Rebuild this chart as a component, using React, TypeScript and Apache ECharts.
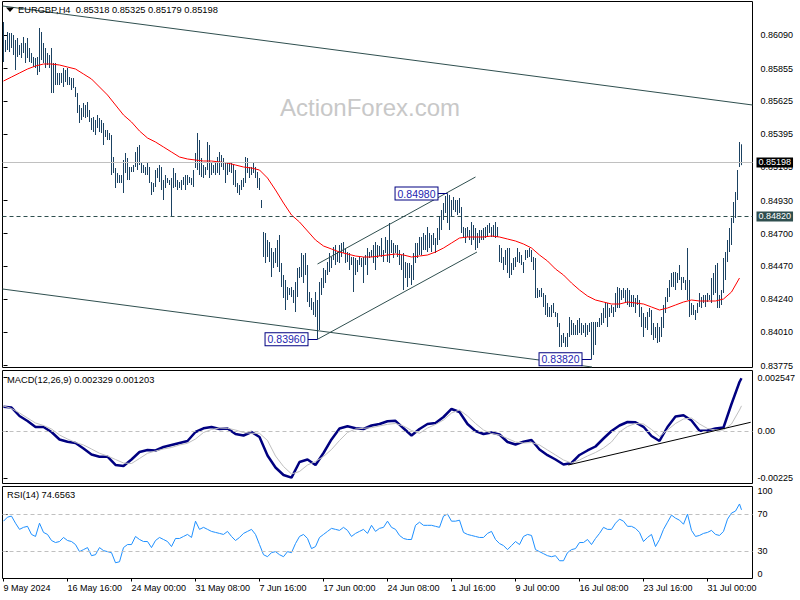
import React, { useEffect, useRef } from 'react';
import * as echarts from 'echarts';

const FONT = "'Liberation Sans', Arial, sans-serif";

// EURGBP H4 bars, prices in points (1 point = 0.00001)
const highs = [
  86181,86055,86111,86104,86104,86090,86055,86069,86020,86034,
  86076,86034,86069,85999,85964,85936,85929,85936,86139,86111,
  86034,85999,85964,85950,85999,85894,85894,85824,85824,85824,
  85859,85845,85859,85796,85789,85789,85726,85684,85600,85579,
  85614,85600,85621,85565,85509,85516,85495,85530,85509,85495,
  85474,85425,85425,85404,85390,85236,85159,85124,85110,85110,
  85215,85264,85229,85166,85166,85180,85271,85306,85320,85194,
  85180,85166,85194,85166,85061,85054,85145,85159,85180,85166,
  85075,85110,85089,85075,85089,85159,85124,85075,85061,85075,
  85096,85110,85110,85096,85089,85145,85264,85404,85355,85229,
  85180,85166,85341,85320,85201,85180,85194,85236,85271,85250,
  85229,85194,85194,85201,85194,85180,85145,85054,85040,85075,
  85089,85236,85229,85166,85166,85194,85166,85131,85089,84935,
  84711,84704,84655,84641,84599,84571,84599,84655,84690,84494,
  84410,84375,84326,84319,84326,84305,84361,84459,84466,84564,
  84550,84564,84480,84291,84249,84221,84291,84235,84361,84389,
  84459,84445,84501,84564,84536,84606,84620,84571,84620,84634,
  84641,84599,84571,84564,84536,84536,84529,84515,84536,84529,
  84536,84550,84599,84571,84585,84620,84641,84620,84613,84669,
  84585,84676,84655,84774,84655,84634,84620,84620,84585,84550,
  84564,84501,84494,84494,84480,84564,84634,84634,84676,84676,
  84704,84690,84746,84704,84690,84704,84669,84739,84816,84865,
  84914,84963,84980,84970,84935,84956,84935,84935,84949,84886,
  84746,84739,84746,84725,84781,84760,84739,84704,84725,84725,
  84739,84746,84760,84774,84746,84760,84781,84746,84620,84599,
  84536,84585,84599,84599,84494,84529,84536,84599,84571,84550,
  84501,84585,84585,84599,84585,84536,84529,84319,84305,84319,
  84284,84270,84214,84186,84200,84214,84151,84144,84074,83990,
  84004,83976,84004,84116,84095,84074,84060,84095,84109,84074,
  84060,84074,84060,84074,84081,84081,84081,84081,84109,84144,
  84179,84214,84214,84179,84200,84186,84284,84326,84319,84305,
  84319,84305,84319,84305,84270,84270,84249,84270,84235,84186,
  84144,84116,84151,84179,84165,84074,84046,84074,84046,84116,
  84200,84256,84319,84375,84424,84431,84431,84424,84480,84396,
  84396,84375,84599,84375,84214,84200,84165,84214,84284,84256,
  84270,84270,84284,84270,84389,84424,84480,84494,84270,84305,
  84529,84571,84655,84739,84809,84921,84991,85145,85341,85325,
];
const lows = [
  85901,85971,85985,85971,85999,85950,85845,85936,85950,85929,
  85964,85894,85929,85901,85894,85866,85859,85810,85831,85915,
  85894,85859,85880,85859,85684,85684,85740,85740,85740,85754,
  85726,85761,85740,85740,85705,85719,85656,85544,85474,85495,
  85516,85509,85516,85481,85425,85411,85390,85439,85411,85404,
  85320,85376,85355,85355,85110,85124,85019,85054,85054,85054,
  84984,85124,85075,85075,85131,85131,85166,85145,85180,85124,
  85124,85110,85110,85054,84970,84991,85026,85089,85061,85005,
  84935,85019,85054,85040,84816,85019,85026,85005,85019,85005,
  85040,85005,85040,85054,85040,85026,85159,85145,85110,85096,
  85089,85110,85145,85089,85110,85124,85110,85124,85110,85166,
  85145,85054,85110,85131,85124,85040,85026,84984,84970,85005,
  85026,85054,85124,85089,85110,85124,85089,85019,85005,84879,
  84536,84494,84536,84501,84396,84459,84494,84466,84431,84326,
  84249,84165,84235,84270,84256,84214,84151,84256,84389,84396,
  84354,84410,84221,84186,84165,84130,84116,83960,84025,84270,
  84319,84354,84410,84431,84459,84515,84480,84501,84494,84536,
  84564,84494,84501,84445,84480,84291,84410,84431,84480,84466,
  84354,84480,84410,84529,84536,84494,84445,84529,84543,84536,
  84501,84564,84501,84494,84564,84529,84564,84536,84480,84445,
  84305,84389,84326,84389,84340,84375,84494,84529,84550,84550,
  84585,84585,84571,84599,84571,84620,84564,84620,84655,84725,
  84795,84844,84774,84725,84816,84865,84851,84830,84844,84704,
  84676,84634,84676,84655,84620,84655,84585,84599,84634,84655,
  84655,84669,84676,84704,84676,84676,84669,84676,84501,84494,
  84445,84480,84424,84389,84410,84445,84466,84501,84494,84480,
  84424,84515,84529,84536,84501,84445,84249,84249,84256,84256,
  84186,84130,84116,84116,84116,84144,84116,84046,83906,83906,
  83934,83906,83906,83976,83990,83990,83990,83990,84004,83990,
  84004,83976,83990,84011,83820,83850,83920,84046,84046,84060,
  84074,84109,84046,84116,84144,84116,84151,84179,84179,84235,
  84249,84221,84200,84186,84186,84186,84144,84200,84116,84046,
  83976,84039,84025,84116,83990,83955,83969,83934,83941,83976,
  84039,84144,84221,84256,84326,84326,84305,84354,84375,84305,
  84354,84305,84235,84116,84130,84130,84095,84144,84186,84179,
  84214,84186,84221,84235,84214,84270,84284,84179,84179,84200,
  84284,84375,84501,84571,84620,84774,84809,84935,85166,85179,
];

// Moving average, sampled every 4 bars (points)
const maValues = [
  85768,85796,85824,85852,85873,85887,85887,85880,85866,85852,
  85817,85782,85726,85670,85600,85530,85481,85418,85369,85341,
  85306,85271,85236,85222,85215,85208,85208,85201,85194,85180,
  85166,85159,85145,85089,85005,84914,84830,84781,84718,84655,
  84613,84592,84571,84557,84543,84536,84536,84543,84550,84557,
  84550,84536,84543,84550,84571,84599,84634,84669,84676,84676,
  84676,84683,84676,84662,84648,84627,84599,84550,84508,84452,
  84410,84354,84305,84263,84235,84221,84207,84207,84221,84214,
  84207,84186,84165,84179,84200,84221,84235,84228,84228,84228,
  84242,84291,84389,
];

// MACD main & signal, every 4 bars, last value = last bar (units of 1e-6)
const macdValues = [
  1162,1123,717,478,191,191,-48,-406,-511,-574,
  -837,-1123,-1228,-1228,-1625,-1673,-1362,-1004,-908,-932,
  -765,-669,-574,-478,-48,129,191,96,120,-143,
  -215,-48,-287,-1171,-1745,-2103,-2232,-1482,-1362,-1625,
  -1052,-406,120,225,129,96,263,335,464,488,
  129,-215,96,335,382,669,1052,908,335,0,
  -143,-72,-167,-526,-645,-511,-430,-884,-1157,-1362,
  -1601,-1530,-1147,-932,-741,-359,0,263,430,416,
  201,-239,-478,191,693,750,502,14,24,120,
  167,1291,2342,2520,
];
const signalValues = [
  1195,1076,860,621,382,263,96,-191,-382,-550,
  -669,-860,-1066,-1195,-1362,-1530,-1554,-1315,-1066,-956,
  -860,-789,-669,-588,-382,-72,72,143,129,48,
  -72,-110,-110,-454,-1195,-1697,-2055,-1936,-1625,-1458,
  -1219,-884,-454,-72,96,129,158,239,320,359,
  239,24,-110,143,311,526,860,1004,717,359,
  48,-120,-191,-359,-526,-574,-550,-669,-908,-1147,
  -1386,-1530,-1386,-1195,-1028,-813,-526,-48,215,359,
  335,72,-263,48,359,574,621,335,120,48,
  48,335,1004,1203,
];

// RSI(14), every 2 bars, last value = last bar
const rsiValues = [
  62.3,66.7,67.8,60.1,53.4,55.6,56.7,47.9,45.7,60.1,
  50.1,47.9,41.3,39.1,40.2,44.6,41.3,40.2,36.9,29.2,
  31.4,33.6,24.8,25.9,33.6,30.3,29.2,28.1,17.1,18.2,
  33.6,36.9,36.9,45.7,42.4,40.2,40.2,33.6,41.3,44.6,
  42.4,40.2,34.7,43.5,43.5,45.7,47.9,44.6,62.3,53.4,
  55.6,53.4,51.2,50.1,49.0,47.9,51.2,45.7,41.3,44.6,
  49.0,51.2,53.4,47.9,36.9,25.9,23.7,28.1,29.2,25.9,
  23.7,29.2,28.1,38.0,45.7,47.9,43.5,32.5,34.7,44.6,
  47.9,51.2,54.5,53.4,52.3,55.6,52.3,45.7,49.0,51.2,
  53.4,49.0,57.8,51.2,54.5,55.6,62.3,55.6,53.4,46.8,
  43.5,42.4,42.4,57.8,61.2,57.8,57.8,57.8,56.7,55.6,
  67.8,70.0,62.3,62.3,63.4,50.1,47.9,46.8,45.7,44.6,
  44.6,49.0,51.2,42.4,38.0,35.8,31.4,35.8,40.2,36.9,
  45.7,47.9,46.8,31.4,29.2,27.0,24.8,23.7,24.8,19.3,
  19.3,28.1,31.4,32.5,39.1,39.1,42.4,36.9,43.5,49.0,
  55.6,53.4,53.4,60.1,64.5,62.3,56.7,56.7,54.5,50.1,
  40.2,44.6,47.9,34.7,42.4,53.4,61.2,68.9,65.6,63.4,
  59.0,70.0,52.3,45.7,46.8,49.0,50.1,52.3,47.9,46.8,
  51.2,64.5,71.1,73.3,81.0,74.66,
];

const xTickLabels = [
  '9 May 2024', '16 May 16:00', '24 May 00:00', '31 May 08:00', '7 Jun 16:00', '17 Jun 00:00',
  '24 Jun 08:00', '1 Jul 16:00', '9 Jul 00:00', '16 Jul 08:00', '23 Jul 16:00', '31 Jul 00:00',
];
const barsPerLabel = 32;
const priceTicks = [0.83775, 0.8401, 0.8424, 0.8447, 0.847, 0.8493, 0.85165, 0.85395, 0.85625, 0.85855, 0.8609];
const macdTicks = [-0.00225, 0, 0.002547];
const macdTickLabels = ['-0.00225', '0.00', '0.002547'];
const rsiTicks = [0, 30, 70, 100];
const rsiLevels = [30, 70];

const lastBar = [0.85318, 0.85325, 0.85179, 0.85198];
const keyLevel = 0.8482;
const lastMacd = ['0.002329', '0.001203'];
const lastRsi = '74.6563';

// Trend / channel lines: [[barIndex, pricePoints], [barIndex, pricePoints]]
const channelLines = [
  [[-0.5, 86293], [374.5, 85600]],
  [[-0.5, 84312], [294.25, 83766]],
  [[157, 83960], [236.75, 84571]],
  [[157, 84487], [236, 85096]],
];
// Labelled pivots: [barIndex, pricePoints]
const pivots = [[157, 83960], [222, 84980], [294, 83820]];
// MACD trendline: [barIndex, value(1e-6)]
const macdTrend = [[282.4, -1625], [373.6, 416]];

const BAR_COLOR = '#1B4262';
const SLATE = '#2F4F4F';
const X_MIN = -0.5;
const X_MAX = 374.5;

export default function App() {
  const ref = useRef<HTMLDivElement>(null);
  useEffect(() => {
    if (!ref.current) return;
    const chart = echarts.init(ref.current, undefined, { renderer: 'svg' });
    const lastIdx = highs.length - 1;
    const bars = highs.map((h, i) => [i, h / 1e5, lows[i] / 1e5]);
    const xTickVals = xTickLabels.map((_, k) => k * barsPerLabel);

    const xAxisBase = { type: 'value', min: X_MIN, max: X_MAX, splitLine: { show: false } };
    const yCommon = {
      type: 'value', position: 'right', splitLine: { show: false }, axisLine: { show: false },
    };
    const labelText = { fontSize: 9, color: '#000', fontFamily: FONT };

    const levelLine = (price: number, lineColor: string, dash: any, bg: string) => [
      {
        coord: [X_MIN, price],
        lineStyle: { color: lineColor, type: dash, width: 1 },
        label: {
          show: true, position: 'end', distance: 4, formatter: price.toFixed(5),
          backgroundColor: bg, color: '#fff', fontSize: 9, fontFamily: FONT, padding: [1, 2, 0, 2],
        },
      },
      { coord: [X_MAX, price] },
    ];

    const option: any = {
      animation: false,
      backgroundColor: '#fff',
      textStyle: { fontFamily: FONT },
      grid: [
        { left: 2.5, top: 1.5, width: 750, height: 366, show: true, borderColor: '#000', borderWidth: 1 },
        { left: 2.5, top: 370.5, width: 750, height: 113, show: true, borderColor: '#000', borderWidth: 1 },
        { left: 2.5, top: 486.5, width: 750, height: 92, show: true, borderColor: '#000', borderWidth: 1 },
      ],
      xAxis: [
        { ...xAxisBase, gridIndex: 0, show: false },
        { ...xAxisBase, gridIndex: 1, show: false },
        {
          ...xAxisBase, gridIndex: 2,
          axisLine: { show: false },
          axisTick: { show: true, customValues: xTickVals, length: 3, lineStyle: { color: '#000' } },
          axisLabel: {
            ...labelText, customValues: xTickVals, align: 'left', margin: 5,
            formatter: (v: number) => xTickLabels[Math.round(v / barsPerLabel)] ?? '',
          },
        },
      ],
      yAxis: [
        {
          ...yCommon, gridIndex: 0, min: 0.837625, max: 0.863245,
          axisTick: { show: true, customValues: priceTicks, length: 4, lineStyle: { color: '#000' } },
          axisLabel: { ...labelText, customValues: priceTicks, margin: 8, formatter: (v: number) => v.toFixed(5) },
        },
        {
          ...yCommon, gridIndex: 1, min: -0.00251, max: 0.002892,
          axisTick: { show: true, customValues: macdTicks, length: 4, lineStyle: { color: '#000' } },
          axisLabel: {
            ...labelText, customValues: macdTicks, margin: 5,
            formatter: (v: number) => {
              const k = macdTicks.findIndex((t) => Math.abs(t - v) < 1e-9);
              return k >= 0 ? macdTickLabels[k] : '';
            },
          },
        },
        {
          ...yCommon, gridIndex: 2, min: 0, max: 100,
          axisTick: { show: true, customValues: rsiTicks, length: 4, lineStyle: { color: '#000' } },
          axisLabel: {
            ...labelText, customValues: rsiTicks, margin: 5,
            verticalAlignMinLabel: 'bottom', verticalAlignMaxLabel: 'top',
            formatter: (v: number) => String(v),
          },
        },
      ],
      graphic: [
        {
          type: 'text', left: 280, top: 95, z: 0, silent: true,
          style: { text: 'ActionForex.com', font: `24px ${FONT}`, fill: '#C8C8C8' },
        },
        {
          type: 'polygon', z: 100, silent: true,
          shape: { points: [[6, 7.5], [14, 7.5], [10, 12]] },
          style: { fill: '#000' },
        },
        {
          type: 'text', x: 18, y: 10, z: 100, silent: true,
          style: {
            text: `EURGBP,H4  ${lastBar.map((v) => v.toFixed(5)).join(' ')}`,
            font: `9.3px ${FONT}`, fill: '#000', verticalAlign: 'middle',
          },
        },
        {
          type: 'text', x: 7, y: 380, z: 100, silent: true,
          style: { text: `MACD(12,26,9) ${lastMacd.join(' ')}`, font: `9.3px ${FONT}`, fill: '#000', verticalAlign: 'middle' },
        },
        {
          type: 'text', x: 7, y: 495, z: 100, silent: true,
          style: { text: `RSI(14) ${lastRsi}`, font: `9.3px ${FONT}`, fill: '#000', verticalAlign: 'middle' },
        },
      ],
      series: [
        {
          type: 'custom',
          xAxisIndex: 0, yAxisIndex: 0,
          data: bars,
          encode: { x: 0, y: [1, 2] },
          clip: true,
          renderItem: (params: any, api: any) => {
            const x = api.value(0);
            const p1 = api.coord([x, api.value(1)]);
            const p2 = api.coord([x, api.value(2)]);
            return {
              type: 'line',
              shape: { x1: p1[0], y1: p1[1], x2: p2[0], y2: p2[1] },
              style: { stroke: BAR_COLOR, lineWidth: 1 },
            };
          },
        },
        {
          type: 'line',
          xAxisIndex: 0, yAxisIndex: 0,
          data: maValues.map((v, k) => [4 * k, v / 1e5]),
          showSymbol: false, symbol: 'none',
          lineStyle: { color: '#FF0000', width: 1 },
          markLine: {
            silent: true, symbol: ['none', 'none'], animation: false,
            data: [
              levelLine(lastBar[3], '#C0C0C0', 'solid', '#000'),
              levelLine(keyLevel, SLATE, [4, 3], SLATE),
              ...channelLines.map(([a, b]) => [
                { coord: [a[0], a[1] / 1e5], lineStyle: { color: SLATE, type: 'solid', width: 1 }, label: { show: false } },
                { coord: [b[0], b[1] / 1e5] },
              ]),
              ...pivots.map(([idx, p]) => [
                {
                  coord: [idx - 5, p / 1e5],
                  lineStyle: { color: '#000080', type: 'solid', width: 1 },
                  label: {
                    show: true, position: 'start', distance: 0, formatter: (p / 1e5).toFixed(5),
                    color: '#2424B0', fontSize: 10.5, fontFamily: FONT,
                    backgroundColor: '#fff', borderColor: '#000080', borderWidth: 1, padding: [1, 2, 0, 2],
                  },
                },
                { coord: [idx, p / 1e5] },
              ]),
            ],
          },
        },
        {
          type: 'line',
          xAxisIndex: 1, yAxisIndex: 1,
          data: macdValues.map((v, k) => [Math.min(4 * k, lastIdx), v / 1e6]),
          showSymbol: false, symbol: 'none',
          lineStyle: { color: '#000080', width: 2.5 },
          markLine: {
            silent: true, symbol: ['none', 'none'], animation: false,
            data: [
              [
                { coord: [X_MIN, 0], lineStyle: { color: '#C0C0C0', type: [4, 3], width: 1 }, label: { show: false } },
                { coord: [X_MAX, 0] },
              ],
              [
                { coord: [macdTrend[0][0], macdTrend[0][1] / 1e6], lineStyle: { color: '#000', type: 'solid', width: 1 }, label: { show: false } },
                { coord: [macdTrend[1][0], macdTrend[1][1] / 1e6] },
              ],
            ],
          },
        },
        {
          type: 'line',
          xAxisIndex: 1, yAxisIndex: 1,
          data: signalValues.map((v, k) => [Math.min(4 * k, lastIdx), v / 1e6]),
          showSymbol: false, symbol: 'none',
          lineStyle: { color: '#C0C0C0', width: 1 },
        },
        {
          type: 'line',
          xAxisIndex: 2, yAxisIndex: 2,
          data: rsiValues.map((v, k) => [Math.min(2 * k, lastIdx), v]),
          showSymbol: false, symbol: 'none',
          lineStyle: { color: '#1E90FF', width: 1 },
          markLine: {
            silent: true, symbol: ['none', 'none'], animation: false,
            data: rsiLevels.map((l) => [
              { coord: [X_MIN, l], lineStyle: { color: '#C0C0C0', type: [4, 3], width: 1 }, label: { show: false } },
              { coord: [X_MAX, l] },
            ]),
          },
        },
      ],
    };
    chart.setOption(option);
    return () => chart.dispose();
  }, []);
  return <div ref={ref} style={{ position: 'absolute', left: 0, top: 0, width: 800, height: 600 }} />;
}
